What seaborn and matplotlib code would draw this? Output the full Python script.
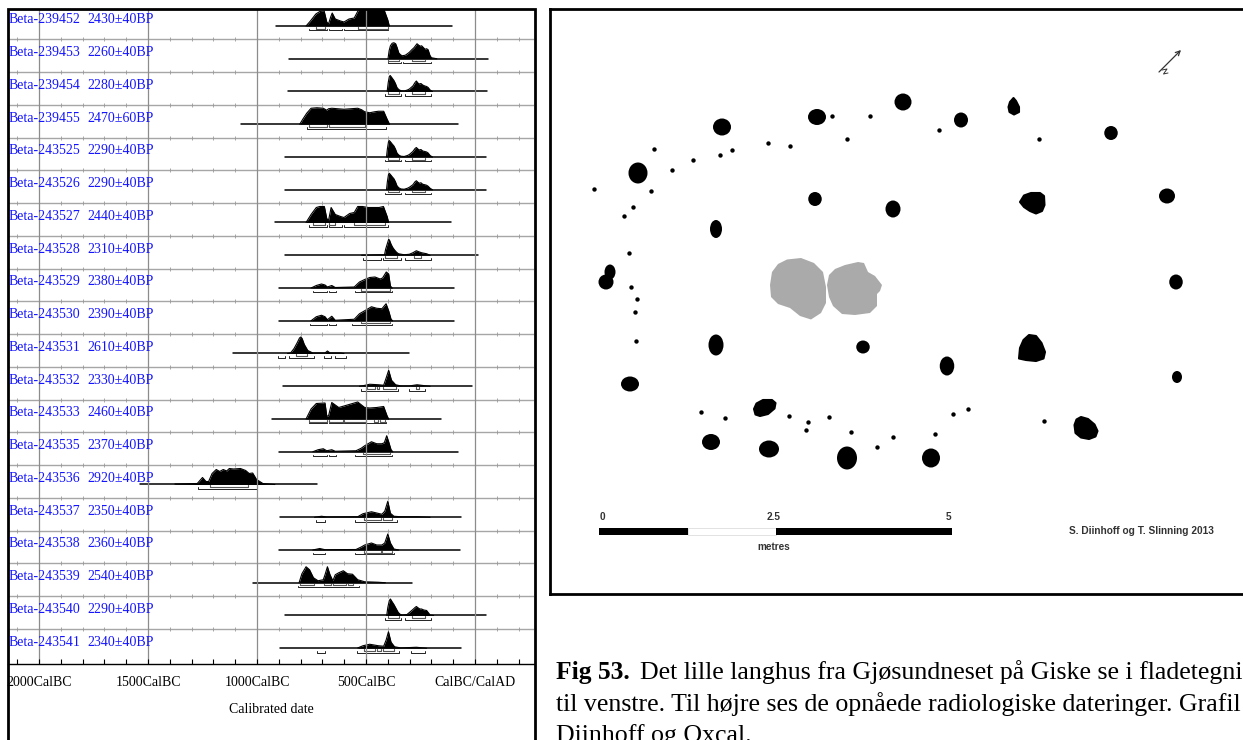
import matplotlib
matplotlib.use("Agg")
import matplotlib.pyplot as plt
from matplotlib.patches import Ellipse, Rectangle
import numpy as np
import pandas as pd
import seaborn as sns

# lab codes and dates, top to bottom
lab_codes = ["Beta-239452", "Beta-239453", "Beta-239454", "Beta-239455", "Beta-243525",
             "Beta-243526", "Beta-243527", "Beta-243528", "Beta-243529", "Beta-243530",
             "Beta-243531", "Beta-243532", "Beta-243533", "Beta-243535", "Beta-243536",
             "Beta-243537", "Beta-243538", "Beta-243539", "Beta-243540", "Beta-243541"]
bp_dates = ["2430±40BP", "2260±40BP", "2280±40BP", "2470±60BP", "2290±40BP",
            "2290±40BP", "2440±40BP", "2310±40BP", "2380±40BP", "2390±40BP",
            "2610±40BP", "2330±40BP", "2460±40BP", "2370±40BP", "2920±40BP",
            "2350±40BP", "2360±40BP", "2540±40BP", "2290±40BP", "2340±40BP"]

# whole extent of each row's line
line_start = [-915, -854, -860, -1073, -870, -870, -918, -873, -900, -900,
              -1108, -883, -929, -899, -1535, -894, -899, -1017, -870, -894]
line_end = [-105, 60, 55, -76, 50, 50, -110, 13, -95, -95,
            -305, -16, -155, -76, -725, -63, -70, -290, 50, -63]

# probability curves: year, height
y0 = [-775, -755, -730, -712, -692, -680, -672, -662, -655, -641, -617, -601, -578, -554, -537, -530, -500, -420, -400, -393]
h0 = [0, 5, 12, 14.5, 15, 4, 2, 9, 13, 7, 5, 4, 7, 8, 15, 18, 18, 18, 6, 0]
y1 = [-399, -394, -388, -380, -372, -364, -357, -350, -342, -334, -320, -310, -301, -290, -280, -266, -258, -250, -245, -236, -229, -222, -215, -207, -200, -175]
h1 = [0, 8, 13, 15.5, 16, 15, 11, 6, 4, 3, 3.5, 5, 6.5, 9, 11, 15, 13.5, 12.5, 13, 11, 9.5, 10, 9, 3.5, 1, 0]
y2 = [-403, -398, -393, -389, -382, -372, -365, -358, -350, -340, -325, -310, -301, -285, -275, -269, -262, -255, -248, -240, -230, -222, -215, -206, -195]
h2 = [0, 9, 15, 16, 14, 11, 8, 4, 2, 0.8, 0.5, 1.5, 2.5, 5.5, 9, 10.5, 8.5, 7.5, 8, 6.5, 5.5, 5, 4, 1.5, 0]
y3 = [-804, -790, -772, -752, -725, -696, -680, -672, -657, -630, -601, -570, -538, -520, -506, -483, -460, -443, -419, -403, -392]
h3 = [0, 5, 11, 16, 16.5, 16, 14, 15.5, 16, 15.5, 15, 15.5, 16, 14.5, 12.5, 11.5, 12.5, 13, 13, 5, 0]
y4 = [-406, -402, -397, -394, -389, -380, -372, -365, -358, -350, -340, -325, -310, -301, -285, -275, -269, -262, -255, -248, -240, -230, -222, -215, -206, -195]
h4 = [0, 8, 15, 16.5, 15.5, 13, 11, 8, 4, 2, 0.8, 0.5, 1.5, 2.5, 5.5, 8.5, 9.5, 8, 7, 7.5, 6, 5.5, 5, 4, 1.5, 0]
y5 = [-406, -402, -397, -394, -389, -380, -372, -365, -358, -350, -340, -325, -310, -301, -285, -275, -269, -262, -255, -248, -240, -230, -222, -215, -206, -195]
h5 = [0, 8, 15, 16.5, 15.5, 13, 11, 8, 4, 2, 0.8, 0.5, 1.5, 2.5, 5, 8, 9, 7.5, 6.5, 7, 5.5, 5, 4.5, 3.5, 1.5, 0]
y6 = [-775, -752, -728, -712, -691, -680, -672, -660, -641, -617, -601, -575, -554, -538, -516, -490, -440, -420, -403, -396]
h6 = [0, 8, 15, 16, 16, 4, 2, 15, 8, 6, 5, 9, 10, 16, 16, 15, 15, 16, 6, 0]
y7 = [-520, -430, -415, -410, -403, -396, -392, -385, -378, -370, -360, -351, -325, -301, -285, -269, -258, -245, -222, -206]
h7 = [0, 0.5, 0.5, 6, 11, 16, 15, 11, 8, 5.5, 3, 1.5, 0.5, 1, 2.5, 4.5, 3.5, 2.5, 1.5, 0]
y8 = [-752, -728, -704, -688, -677, -657, -641, -554, -530, -506, -483, -459, -435, -424, -407, -396, -388, -380]
h8 = [0, 2.5, 4, 3, 1, 2.5, 0.5, 1, 6, 8.5, 10.5, 11, 9, 10, 16, 14, 2, 0]
y9 = [-752, -728, -704, -688, -677, -657, -641, -554, -530, -506, -475, -451, -427, -408, -396, -385, -378]
h9 = [0, 4, 5.5, 4, 1, 4.5, 0.5, 1.5, 7, 10, 14, 12.5, 12, 17, 10, 1.5, 0]
y10 = [-860, -846, -830, -815, -805, -799, -793, -783, -767, -744, -688, -677, -665, -617, -601]
h10 = [0, 0.5, 5, 11, 15.5, 16.5, 15, 9, 3, 0.5, 0.5, 2.5, 0.5, 0.5, 0]
y11 = [-530, -514, -483, -443, -419, -408, -396, -383, -364, -340, -301, -266, -229, -206]
h11 = [0, 0.5, 2, 1.5, 1, 8, 16, 6, 1.5, 0.3, 0.3, 1.5, 0.5, 0]
y12 = [-775, -752, -728, -688, -680, -672, -657, -625, -601, -538, -506, -483, -451, -419, -403, -396]
h12 = [0, 10, 15.5, 16, 3, 3, 16.5, 11.5, 13, 17, 11.5, 11, 11.5, 12.5, 3, 0]
y13 = [-744, -720, -696, -680, -657, -641, -546, -522, -506, -475, -451, -427, -416, -405, -396, -385, -377]
h13 = [0, 2, 3, 1, 2, 0.5, 1, 3.5, 6, 10, 8, 8, 9, 16, 10, 2, 0]
y14 = [-1377, -1274, -1250, -1234, -1222, -1206, -1187, -1171, -1155, -1139, -1127, -1108, -1076, -1052, -1036, -1020, -1002, -973, -918]
h14 = [0.5, 1, 7, 3, 3, 11, 15, 13, 15, 13.5, 16, 15.5, 16, 14, 11, 11.5, 5, 1, 0]
y15 = [-736, -704, -680, -538, -514, -475, -427, -414, -400, -388, -372, -340, -261, -206]
h15 = [0, 1, 0.3, 0.5, 3.5, 5.5, 3, 6, 16, 4, 1, 0.5, 0.5, 0]
y16 = [-744, -712, -688, -546, -522, -506, -475, -451, -427, -414, -400, -388, -372, -350]
h16 = [0, 1.5, 0.3, 0.5, 3, 5, 7, 5, 5, 7, 16, 7, 1, 0]
y17 = [-807, -794, -775, -759, -741, -720, -696, -688, -677, -665, -652, -641, -625, -604, -585, -562, -538, -506, -443, -411]
h17 = [0, 9, 16, 13, 5, 2, 3, 8, 16, 8, 2, 8, 10, 12, 9, 8.5, 3, 1, 0.5, 0]
y18 = [-405, -400, -393, -388, -381, -372, -362, -352, -342, -332, -312, -301, -285, -275, -269, -260, -253, -245, -235, -222, -206, -190]
h18 = [0, 8, 15, 16.5, 14, 11, 7, 3, 1, 0.5, 1, 3, 6, 8, 9, 7.5, 6.5, 6.5, 5.5, 5, 0.5, 0]
y19 = [-538, -514, -483, -443, -419, -408, -397, -385, -369, -340, -269, -222]
h19 = [0.3, 2.5, 4, 2.5, 2, 8, 16.5, 6, 1.5, 0.3, 1, 0]
curve_years = [y0, y1, y2, y3, y4, y5, y6, y7, y8, y9, y10, y11, y12, y13, y14, y15, y16, y17, y18, y19]
curve_heights = [h0, h1, h2, h3, h4, h5, h6, h7, h8, h9, h10, h11, h12, h13, h14, h15, h16, h17, h18, h19]

# 95.4% ranges (lower brackets)
range95 = [
    [(-763, -680), (-672, -609), (-601, -399)],
    [(-400, -339), (-332, -201)],
    [(-411, -339), (-321, -201)],
    [(-772, -408)],
    [(-411, -339), (-321, -201)],
    [(-411, -339), (-321, -201)],
    [(-763, -680), (-672, -609), (-601, -399)],
    [(-514, -430), (-422, -339), (-321, -201)],
    [(-744, -679), (-672, -639), (-551, -380)],
    [(-755, -679), (-672, -639), (-562, -380)],
    [(-905, -870), (-854, -739), (-693, -660), (-644, -590)],
    [(-522, -351), (-301, -229)],
    [(-763, -680), (-672, -606), (-601, -408)],
    [(-744, -679), (-672, -639), (-551, -380)],
    [(-1271, -1002)],
    [(-731, -688), (-551, -359)],
    [(-744, -688), (-551, -370)],
    [(-813, -530)],
    [(-411, -339), (-321, -201)],
    [(-723, -688), (-541, -348), (-293, -228)],
]
# 68.2% ranges (upper brackets)
range68 = [
    [(-731, -688), (-538, -399)],
    [(-400, -348), (-291, -229)],
    [(-400, -348), (-291, -229)],
    [(-763, -680), (-672, -506)],
    [(-400, -348), (-291, -229)],
    [(-400, -348), (-291, -229)],
    [(-741, -688), (-672, -641), (-554, -411)],
    [(-411, -359), (-282, -250)],
    [(-525, -391)],
    [(-522, -388)],
    [(-823, -771)],
    [(-495, -459), (-451, -440), (-422, -361), (-272, -259)],
    [(-763, -680), (-672, -606), (-601, -498), (-464, -443), (-438, -411)],
    [(-514, -388)],
    [(-1214, -1041)],
    [(-511, -430), (-422, -380)],
    [(-511, -430), (-427, -380)],
    [(-804, -739), (-693, -660), (-652, -590), (-582, -558)],
    [(-400, -348), (-291, -229)],
    [(-511, -459), (-451, -430), (-422, -370)],
]

major_years = [-2000, -1500, -1000, -500, 0]
minor_years = [-2100, -1900, -1800, -1700, -1600, -1400, -1300, -1200, -1100, -900, -800,
               -700, -600, -400, -300, -200, -100, 100, 200]
year_labels = ["2000CalBC", "1500CalBC", "1000CalBC", "500CalBC", "CalBC/CalAD"]

# plan drawing: round post holes
hole_x = [722, 817, 903, 961, 1111, 638, 815, 893, 1167, 716, 1176, 610, 606,
          716, 863, 947, 1177, 630, 711, 769, 847, 931]
hole_y = [127, 117, 102, 120, 133, 173, 199, 209, 196, 229, 282, 272, 282,
          345, 347, 366, 377, 384, 442, 449, 458, 458]
hole_w = [18, 18, 17, 14, 13.5, 19, 13.5, 15, 16, 12, 13.5, 11, 15,
          15, 13.5, 14.5, 10, 18, 18, 20, 20, 18]
hole_h = [17, 16, 17, 15, 14, 21, 14, 17, 15, 18, 15, 15, 15,
          21, 13, 19, 12, 15, 16, 17, 23, 19]
# the irregular ones
big1_x = [1013.5, 1016, 1019, 1019, 1014, 1009.5, 1008.5, 1010]
big1_y = [98, 101, 107, 112, 114.5, 112, 107, 102]
big2_x = [1020, 1024, 1031, 1040, 1044, 1044.5, 1042, 1036, 1030, 1024]
big2_y = [202, 195.5, 193, 193, 196, 205, 211, 213.5, 211, 207]
big3_x = [1019, 1020, 1023.5, 1029, 1036, 1041.5, 1045, 1043.5, 1036, 1026]
big3_y = [358.5, 348, 340, 335, 336, 343, 352, 358.5, 361, 360]
big4_x = [1074.5, 1076.5, 1081, 1088, 1094.5, 1097.5, 1095.5, 1089, 1081, 1075.5]
big4_y = [425, 419.5, 417, 419, 424.5, 431, 436.5, 439, 437.5, 433]
big5_x = [754, 756.5, 763, 772, 775.5, 774.5, 768, 760, 755.5]
big5_y = [409, 403.5, 400, 400, 403, 408.5, 414, 416, 414.5]
dot_x = [832, 870, 847, 939, 1039, 654, 732, 720, 768, 790, 693, 672, 593.5, 650.5, 633, 624,
         629, 631, 637, 635, 636, 701, 725, 789, 808, 829, 805.5, 851, 893, 877, 935, 953, 967.5, 1044]
dot_y = [116, 116, 139, 130, 139, 149, 150, 155, 143, 146, 160, 170, 189, 191, 207, 216,
         253, 287, 299, 312, 341, 412, 418, 416, 422, 417, 430, 432, 437, 447, 434, 414, 409, 421]

house_left_x = [770, 772, 778, 787, 801, 814, 823, 826, 826, 821, 811, 800, 790, 778, 771]
house_left_y = [285, 272, 264, 259.5, 258, 263, 272, 287, 303, 313, 319.5, 316, 308, 304, 297]
house_right_x = [827, 829, 835, 845, 858, 864, 868, 875, 882, 880, 877, 877, 870, 855, 842, 833, 829]
house_right_y = [285, 275, 269, 265, 262, 263, 272, 276, 285, 291, 294, 306, 313, 315, 314, 306, 297]

sns.set_theme(style="white")
plt.rcParams["font.family"] = ["Liberation Serif", "DejaVu Serif"]

W, H = 1243, 740
PX_YEAR = 0.218      # pixels per year on the calendar axis
ROW = 32.75          # pixels per row

fig = plt.figure(figsize=(W / 100, H / 100), dpi=100, facecolor="white")
ax = fig.add_axes([8 / W, (H - 664) / H, 526 / W, 655 / H])
ax.set_facecolor("none")

rows = []
for i in range(len(lab_codes)):
    for yr, ht in zip(curve_years[i], curve_heights[i]):
        rows.append({"row": i, "year": yr, "y": i - ht / ROW})
curves = pd.DataFrame(rows)
base = pd.DataFrame({"row": list(range(20)) * 2, "year": line_start + line_end,
                     "y": list(range(20)) * 2})

# ridges
for i in range(len(lab_codes)):
    ax.fill_between(curve_years[i], [i - h / ROW for h in curve_heights[i]], i,
                    color="black", lw=0, zorder=1.5)
sns.lineplot(data=curves, x="year", y="y", units="row", estimator=None, sort=False,
             color="black", lw=0.8, legend=False, ax=ax, zorder=1.6)
sns.lineplot(data=base, x="year", y="y", units="row", estimator=None, sort=True,
             color="black", lw=1.1, legend=False, ax=ax, zorder=1.7)

# range brackets under each curve
for i in range(len(lab_codes)):
    for a, b in range95[i]:
        ax.plot([a, a, b, b], [i + 2.8 / ROW, i + 4.3 / ROW, i + 4.3 / ROW, i + 2.8 / ROW],
                color="#222222", lw=0.7, zorder=1.8)
    for a, b in range68[i]:
        ax.plot([a, a, b, b], [i + 0.8 / ROW, i + 2.6 / ROW, i + 2.6 / ROW, i + 0.8 / ROW],
                color="#555555", lw=0.8, zorder=1.8)

# row separators with their little ticks
sep_y = [i + 13.3 / ROW for i in range(19)]
ax.hlines(sep_y, -2142, 270, color="#a6a6a6", lw=1.0, zorder=1)
tick_x, tick_y = np.meshgrid(major_years + minor_years, sep_y)
ax.plot(tick_x.ravel(), tick_y.ravel(), ls="none", marker="|", ms=3.5, mew=0.6, color="#999999", zorder=1.1)

for i in range(len(lab_codes)):
    ax.text(-2138, i - 0.19, lab_codes[i], color="#1414ff", fontsize=10, va="center", ha="left", zorder=4)
    ax.text(-1780, i - 0.19, bp_dates[i], color="#1414ff", fontsize=10, va="center", ha="left", zorder=4)

ax.set_xlim(-467 / PX_YEAR, 59 / PX_YEAR)
ax.set_ylim((664 - 26) / ROW, (9 - 26) / ROW)
ax.set_xticks(major_years)
ax.set_xticklabels(year_labels, fontsize=10, color="black")
ax.set_xticks(minor_years, minor=True)
ax.set_yticks([])
ax.tick_params(axis="x", which="both", direction="in", length=3.8, width=0.8, color="black",
               bottom=True, pad=9)
ax.grid(axis="x", which="major", color="#8c8c8c", lw=0.9)
ax.set_axisbelow(False)
ax.set_xlabel("Calibrated date", fontsize=10, color="black", labelpad=10)
ax.set_ylabel("")
for side in ["top", "left", "right"]:
    ax.spines[side].set_visible(False)
ax.spines["bottom"].set_color("black")
ax.spines["bottom"].set_linewidth(1.0)

# outer frame of the left panel runs off the bottom of the page
fig.add_artist(Rectangle((7.5 / W, -0.05), 527 / W, 1.05 - 9 / H, transform=fig.transFigure,
                         fill=False, ec="black", lw=2))

# right panel, plan of the house
mp = fig.add_axes([549.5 / W, (H - 594) / H, (W - 549.5 + 5) / W, 585 / H])
mp.set_xticks([])
mp.set_yticks([])
for side in mp.spines:
    mp.spines[side].set_color("black")
    mp.spines[side].set_linewidth(2)
mp.fill(house_left_x, house_left_y, color="#aaaaaa", lw=0)
mp.fill(house_right_x, house_right_y, color="#aaaaaa", lw=0)
for x, y, w, h in zip(hole_x, hole_y, hole_w, hole_h):
    mp.add_patch(Ellipse((x, y), w, h, color="black", lw=0))
for px, py in [(big1_x, big1_y), (big2_x, big2_y), (big3_x, big3_y), (big4_x, big4_y), (big5_x, big5_y)]:
    mp.fill(px, py, color="black", lw=1.5, joinstyle="round")
sns.scatterplot(x=dot_x, y=dot_y, s=10, color="black", linewidth=0, legend=False, ax=mp)
mp.set_xlim(549.5, W + 5)
mp.set_ylim(594, 9)

# north arrow
mp.annotate("", xy=(1181, 50), xytext=(1159, 72),
            arrowprops=dict(arrowstyle="->", color="#333333", lw=0.9, shrinkA=0, shrinkB=0, mutation_scale=8))
mp.plot([1162, 1167, 1163.5, 1168], [70, 69, 74, 73], color="#333333", lw=0.7)

# scale bar
mp.add_patch(Rectangle((599, 527.5), 89, 7.5, color="black", lw=0))
mp.add_patch(Rectangle((688, 527.5), 88, 7.5, fc="white", ec="#dddddd", lw=0.6))
mp.add_patch(Rectangle((776, 527.5), 176, 7.5, color="black", lw=0))
sans = ["Liberation Sans", "DejaVu Sans"]
for x, s in zip([602, 774, 948], ["0", "2.5", "5"]):
    mp.text(x, 517, s, fontsize=7.2, fontweight="bold", color="#333333", ha="center", va="center", family=sans)
mp.text(774, 547, "metres", fontsize=7.2, fontweight="bold", color="#333333", ha="center", va="center", family=sans)
mp.text(1141.5, 531, "S. Diinhoff og T. Slinning 2013", fontsize=7.3, fontweight="bold", color="#333333",
        ha="center", va="center", family=sans)

# caption
fig.text(556 / W, 1 - 672 / H, "Fig 53.", fontsize=18.4, fontweight="bold", color="black", va="center")
fig.text(640.5 / W, 1 - 672 / H, "Det lille langhus fra Gjøsundneset på Giske se i fladetegni", fontsize=18.6,
         color="black", va="center")
fig.text(556 / W, 1 - 704 / H, "til venstre. Til højre ses de opnåede radiologiske dateringer. Grafil", fontsize=18.6,
         color="black", va="center")
fig.text(556 / W, 1 - 736 / H, "Diinhoff og Oxcal.", fontsize=18.6, color="black", va="center")

fig.savefig("out.png", dpi=100)
